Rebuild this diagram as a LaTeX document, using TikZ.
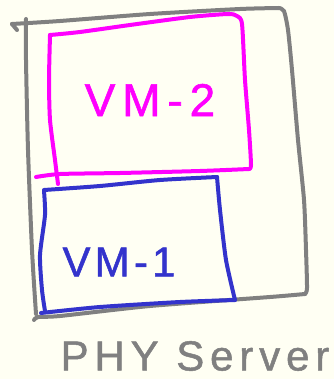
\documentclass[tikz,border=0pt]{standalone}
\usepackage{fontspec}
\setmainfont{Liberation Sans}
\newfontfamily\handfont[LetterSpace=15, FakeBold=1.2]{Liberation Sans}
\newfontfamily\handfontnarrow[LetterSpace=10, FakeBold=1.2]{Liberation Sans}
\newfontfamily\handfontwide[LetterSpace=14, FakeBold=1.2]{Liberation Sans}
\definecolor{paper}{HTML}{FFFFF3}
\definecolor{pengray}{HTML}{808080}
\definecolor{penmagenta}{HTML}{FF00FF}
\definecolor{penblue}{HTML}{3333CC}
\tikzset{
  pen/.style={line width=4pt, line cap=round, line join=round},
  label/.style={inner sep=0pt, anchor=center},
}
\begin{document}
\begin{tikzpicture}[x=1pt, y=-1pt]
  % canvas
  \fill[paper] (0,0) rectangle (334,379);
  \useasboundingbox (0,0) rectangle (334,379);

  % physical server outline
  \draw[pen, pengray] (17,30) -- (12,24);
  \draw[pen, pengray] plot[smooth, tension=0.4] coordinates
    {(12,24) (60,21) (150,14) (240,9) (279,8)};
  \draw[pen, pengray] plot[smooth, tension=0.4] coordinates
    {(279,8) (284,11) (288,30) (292,70) (298,140) (304,200) (306,250) (307,288) (305,294)};
  \draw[pen, pengray] plot[smooth, tension=0.4] coordinates
    {(305,294) (270,297) (150,306) (60,316) (38,317) (34,320)};
  \draw[pen, pengray] plot[smooth, tension=0.4] coordinates
    {(26,19) (26,60) (28,150) (32,250) (36,314)};

  % VM-2 box
  \draw[pen, penmagenta] plot[smooth, tension=0.4] coordinates
    {(58,184) (55,160) (50,120) (49,80) (50,35)};
  \draw[pen, penmagenta] plot[smooth, tension=0.4] coordinates
    {(50,35) (80,32) (130,25) (190,17) (228,14) (237,16) (242,24) (245,80) (249,130) (251,165) (249,169)};
  \draw[pen, penmagenta] plot[smooth, tension=0.4] coordinates
    {(249,169) (200,171) (120,173) (60,174) (36,177)};

  % VM-1 box
  \draw[pen, penblue] plot[smooth, tension=0.4] coordinates
    {(44,190) (100,186) (160,180) (217,177)};
  \draw[pen, penblue] plot[smooth, tension=0.4] coordinates
    {(217,177) (220,210) (226,260) (235,300)};
  \draw[pen, penblue] plot[smooth, tension=0.4] coordinates
    {(235,300) (180,302) (100,307) (41,313)};
  \draw[pen, penblue] plot[smooth, tension=0.4] coordinates
    {(44,191) (45,215) (40,255) (42,290) (45,311)};

  % labels
  \node[label, text=penmagenta, font=\handfont\fontsize{46}{46}\selectfont] (vm2) at (150,100) {VM-2};
  \node[label, text=penblue, font=\handfontnarrow\fontsize{42}{42}\selectfont] (vm1) at (119,262) {VM-1};
  \node[label, text=pengray, font=\handfontwide\fontsize{42}{42}\selectfont] (phy) at (195,356) {PHY Server};
\end{tikzpicture}
\end{document}
